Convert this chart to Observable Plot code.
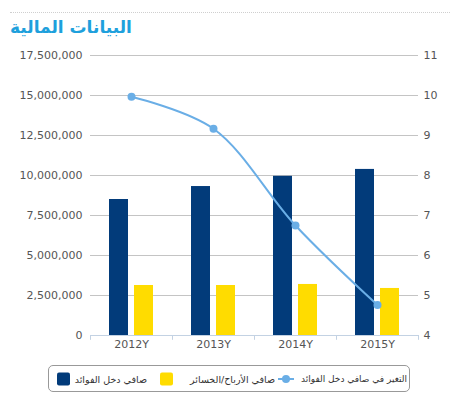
<!DOCTYPE html>
<html>
<head>
<meta charset="utf-8">
<script src="https://cdn.jsdelivr.net/npm/d3@7"></script>
<script src="https://cdn.jsdelivr.net/npm/@observablehq/plot@0.6"></script>
<style>
  body { margin: 0; background: #fff; font-family: "DejaVu Sans", sans-serif; }
  #wrap { width: 462px; }
  #title { height: 45px; box-sizing: border-box; padding-top: 12px; }
  #title .rule { margin: 0 12px 0 10px; border-top: 1px dotted #cfcfcf; height: 0; }
  #title .t { font-family: "DejaVu Sans", sans-serif; font-weight: bold; font-size: 17px; color: #1ea0dc; margin: 2px 0 0 10px; line-height: 24px; height: 24px; white-space: nowrap; }
  #chart { height: 312px; }
  #legend { position: relative; margin: 8px 0 0 48px; width: 362px; height: 27px; box-sizing: border-box; border: 1px solid #999; border-radius: 5px; font-size: 9.5px; color: #333; }
  #legend > * { position: absolute; top: 50%; transform: translateY(-50%); }
  .sq { width: 13px; height: 13px; border-radius: 2px; }
  .lbl { direction: rtl; white-space: nowrap; }
  .ln { width: 16px; height: 10px; }
  .ln::before { content: ""; position: absolute; left: 0; right: 0; top: 4px; height: 2px; background: #6aaee6; }
  .ln::after { content: ""; position: absolute; left: 4px; top: 1px; width: 8px; height: 8px; border-radius: 50%; background: #6aaee6; }
</style>
</head>
<body>
<div id="wrap">
  <div id="title"><div class="rule"></div><div class="t">البيانات المالية</div></div>
  <div id="chart"></div>
  <div id="legend"></div>
</div>
<script>
const years = ["2012Y", "2013Y", "2014Y", "2015Y"];
const netInterestIncome = [8500000, 9310000, 9950000, 10380000];
const netProfitLoss = [3125000, 3125000, 3190000, 2940000];
const changeInNII = [9.97, 9.17, 6.75, 4.76];
const leftTicks = [0, 2500000, 5000000, 7500000, 10000000, 12500000, 15000000, 17500000];
const rightTicks = [4, 5, 6, 7, 8, 9, 10, 11];
const seriesNames = ["صافي دخل الفوائد", "صافي الأرباح/الخسائر", "التغير في صافي دخل الفوائد"];
const colors = ["#023b7a", "#ffdc00", "#6aaee6"];

const legend = document.getElementById("legend");
legend.innerHTML =
  '<span class="sq" style="left:8px;background:' + colors[0] + '"></span>' +
  '<span class="lbl" style="right:262px">' + seriesNames[0] + '</span>' +
  '<span class="sq" style="left:111px;background:' + colors[1] + '"></span>' +
  '<span class="lbl" style="right:134px">' + seriesNames[1] + '</span>' +
  '<span class="ln" style="left:229px"></span>' +
  '<span class="lbl" style="right:2px;font-size:9px">' + seriesNames[2] + '</span>';

const LMAX = 17500000, RMIN = 4, RMAX = 11;
const toLeft = v => (v - RMIN) / (RMAX - RMIN) * LMAX;
const fromLeft = v => Math.round(v / LMAX * (RMAX - RMIN) + RMIN);

const rows = years.map((y, i) => ({year: y, nii: netInterestIncome[i], npl: netProfitLoss[i], chg: toLeft(changeInNII[i])}));

const plot = Plot.plot({
  width: 462,
  height: 312,
  marginTop: 10,
  marginBottom: 22,
  marginLeft: 90,
  marginRight: 44,
  style: {fontFamily: "DejaVu Sans, sans-serif", fontSize: "11px", color: "#555", background: "transparent"},
  x: {type: "band", domain: years, padding: 0, label: null},
  y: {domain: [0, LMAX], label: null},
  marks: [
    Plot.ruleY(leftTicks.filter(d => d > 0), {stroke: "#c4c4c4", strokeWidth: 1}),
    Plot.ruleY([0], {stroke: "#c3d2e3"}),
    Plot.ruleX(years, {x: d => d, dx: -41, y1: 0, y2: -300000, stroke: "#c3d2e3"}),
    Plot.ruleX(years.slice(-1), {x: d => d, dx: 41, y1: 0, y2: -300000, stroke: "#c3d2e3"}),
    Plot.barY(rows, {x: "year", y: "nii", fill: colors[0], insetLeft: 19, insetRight: 44}),
    Plot.barY(rows, {x: "year", y: "npl", fill: colors[1], insetLeft: 44, insetRight: 19}),
    Plot.line(rows, {x: "year", y: "chg", stroke: colors[2], strokeWidth: 2, curve: "catmull-rom"}),
    Plot.dot(rows, {x: "year", y: "chg", fill: colors[2], r: 4}),
    Plot.axisY(leftTicks, {anchor: "left", tickSize: 0, tickPadding: 8, tickFormat: d3.format(","), label: null, fill: "#555"}),
    Plot.axisY(rightTicks.map(toLeft), {anchor: "right", tickSize: 0, tickPadding: 5, tickFormat: fromLeft, label: null, fill: "#555"}),
    Plot.axisX({tickSize: 0, tickPadding: 5, label: null, fill: "#555"})
  ]
});
document.getElementById("chart").appendChild(plot);
</script>
</body>
</html>
